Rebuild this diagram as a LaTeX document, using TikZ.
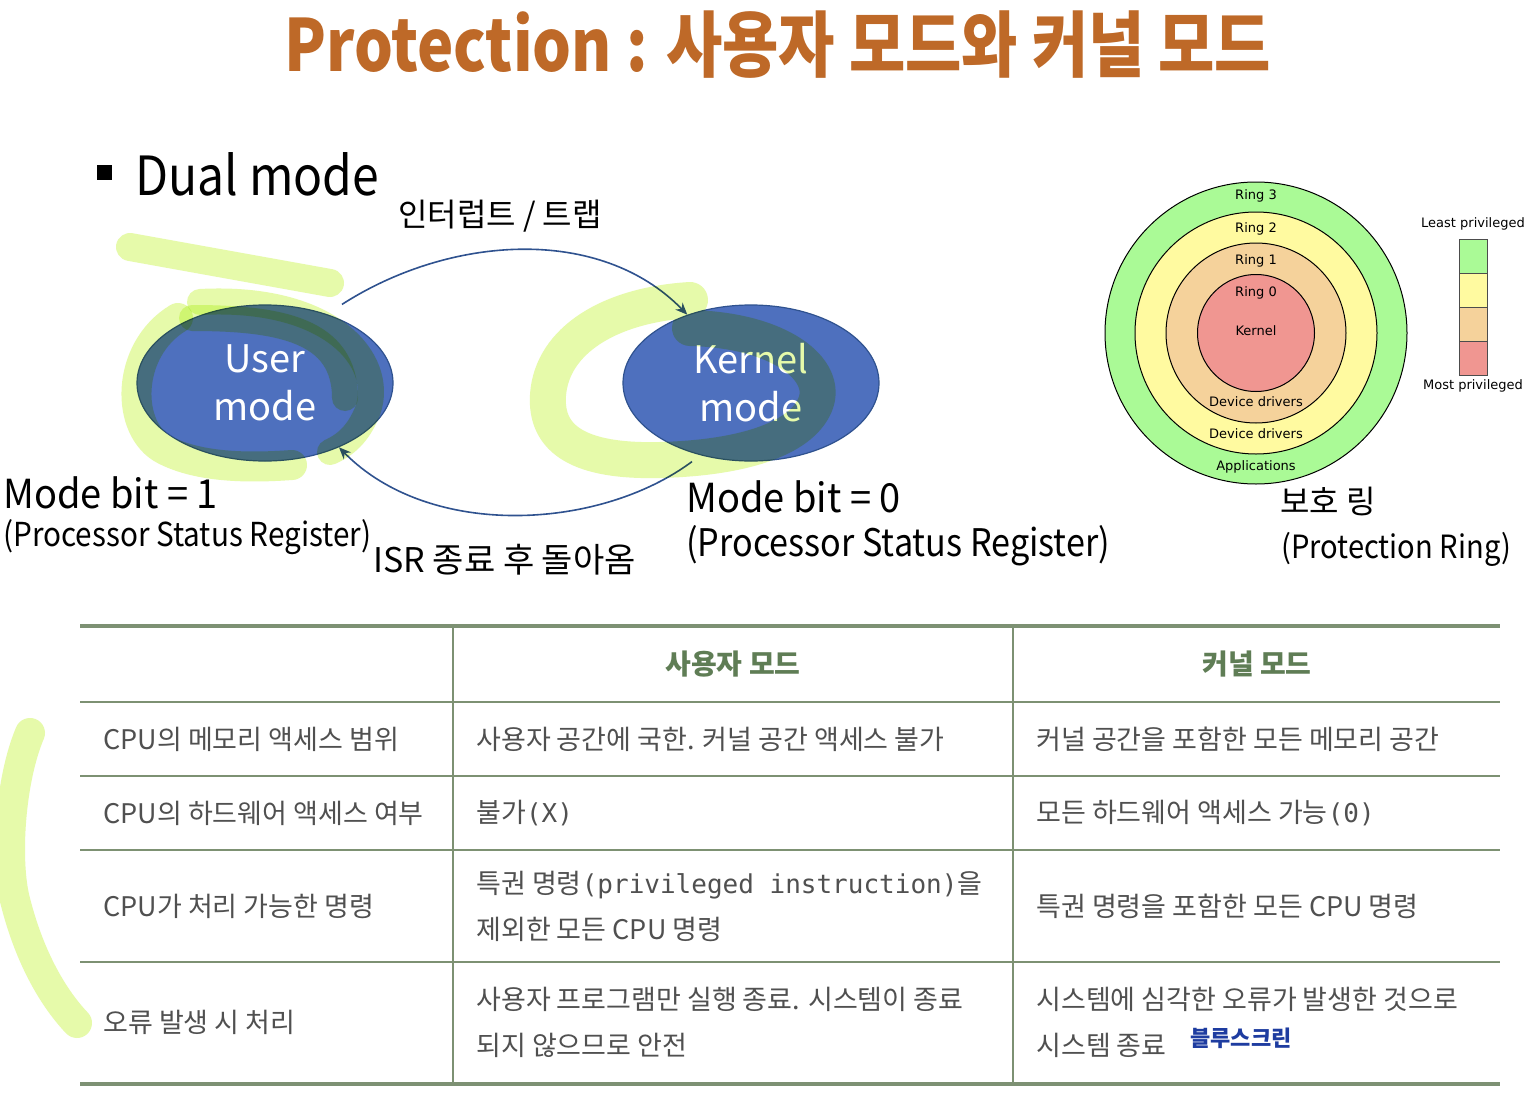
\documentclass[tikz,border=0pt]{standalone}
\usepackage{fontspec}
\setmainfont{Noto Sans CJK KR}
\newfontfamily\ringfont{DejaVu Sans}
\newfontfamily\codefont{DejaVu Sans Mono}
\usetikzlibrary{arrows.meta, positioning, shapes.geometric}
\definecolor{titleorange}{RGB}{190,105,40}
\definecolor{modefill}{RGB}{78,112,190}
\definecolor{modeline}{RGB}{47,82,143}
\definecolor{marker}{RGB}{230,250,170}
\definecolor{gridgreen}{RGB}{125,145,115}
\definecolor{headgreen}{RGB}{95,125,85}
\definecolor{bodygray}{RGB}{80,80,80}
\definecolor{bsod}{RGB}{30,60,160}
\definecolor{ringA}{RGB}{170,250,150}
\definecolor{ringB}{RGB}{255,250,160}
\definecolor{ringC}{RGB}{245,210,155}
\definecolor{ringD}{RGB}{240,150,145}
\newcommand{\squeeze}[2]{\scalebox{#1}[1]{#2}}
\newcommand{\code}[1]{{\codefont\fontsize{13}{23}\selectfont#1}}

\begin{document}
\begin{tikzpicture}[x=0.5pt, y=-0.5pt,
    modebox/.style={ellipse, draw=modeline, fill=modefill, line width=0.6pt, minimum width=128pt, minimum height=78pt, inner sep=0pt, text=white, align=center, font=\fontsize{19}{24}\selectfont},
    flow/.style={-{Stealth[length=6pt, width=5pt]}, draw=modeline, line width=0.8pt},
    lbl/.style={inner sep=0pt, anchor=base west},
    cell/.style={inner sep=0pt, anchor=west, align=left, text=bodygray, font=\fontsize{13.5}{23}\selectfont},
    head/.style={inner sep=0pt, text=headgreen, font=\fontsize{14}{16}\selectfont\bfseries},
    ring/.style={draw=black, line width=0.5pt},
    ringlbl/.style={inner sep=0pt, font=\ringfont\fontsize{6.5}{7}\selectfont},
    hl/.style={draw=marker, line cap=round, line join=round}
  ]
  \fill[white] (0,0) rectangle (1538,1108);
  \useasboundingbox (0,0) rectangle (1538,1108);

  % title and bullet
  \node[inner sep=0pt, anchor=base, text=titleorange, font=\fontsize{36}{40}\selectfont\bfseries] (title) at (778,71) {\squeeze{0.85}{Protection : 사용자 모드와 커널 모드}};
  \node[fill=black, minimum size=7.5pt, inner sep=0pt] (bullet) at (104.5,172) {};
  \node[lbl, font=\fontsize{27}{30}\selectfont] (dual) at (135,195) {\squeeze{0.89}{Dual mode}};

  % the two modes
  \node[modebox] (user) at (265,383) {User\\mode};
  \node[modebox] (kernel) at (751,383) {Kernel\\mode};
  \draw[flow] ([shift={(77,0)}]user.north) .. controls (450,235) and (600,225) .. (kernel.133);
  \draw[flow] ([shift={(-59,0)}]kernel.south) .. controls (600,530) and (430,540) .. (user.-41);
  \node[inner sep=0pt, anchor=base, font=\fontsize{16}{18}\selectfont] (trap) at (500,226) {인터럽트 / 트랩};
  \node[lbl, font=\fontsize{17}{20}\selectfont] (isr) at (373,572) {ISR 종료 후 돌아옴};
  \node[lbl, font=\fontsize{20}{22}\selectfont] (bitone) at (3,508) {\squeeze{0.95}{Mode bit = 1}};
  \node[lbl, font=\fontsize{16.5}{18}\selectfont] (psrone) at (3,546) {\squeeze{0.9}{(Processor Status Register)}};
  \node[lbl, font=\fontsize{20}{22}\selectfont] (bitzero) at (686,512) {\squeeze{0.95}{Mode bit = 0}};
  \node[lbl, font=\fontsize{19}{21}\selectfont] (psrzero) at (686,556) {\squeeze{0.9}{(Processor Status Register)}};

  % protection rings
  \filldraw[ring, fill=ringA] (1256,333) circle[radius=151];
  \filldraw[ring, fill=ringB] (1256,333) circle[radius=121];
  \filldraw[ring, fill=ringC] (1256,333) circle[radius=90];
  \filldraw[ring, fill=ringD] (1256,333) circle[radius=58.5];
  \node[ringlbl] (rthree) at (1256,196) {Ring 3};
  \node[ringlbl] (rtwo) at (1256,229) {Ring 2};
  \node[ringlbl] (rone) at (1256,261) {Ring 1};
  \node[ringlbl] (rzero) at (1256,293) {Ring 0};
  \node[ringlbl] (core) at (1256,331) {Kernel};
  \node[ringlbl] (drvin) at (1256,402) {Device drivers};
  \node[ringlbl] (drvout) at (1256,434) {Device drivers};
  \node[ringlbl] (apps) at (1256,467) {Applications};
  \foreach \c [count=\i from 0] in {ringA,ringB,ringC,ringD}
    \filldraw[draw=black!70, line width=0.4pt, fill=\c] (1459,{239+\i*34}) rectangle (1487,{273+\i*34});
  \node[ringlbl] (least) at (1473,224) {Least privileged};
  \node[ringlbl] (most) at (1473,386) {Most privileged};
  \node[lbl, font=\fontsize{16}{18}\selectfont] (ringko) at (1280,513) {보호 링};
  \node[lbl, font=\fontsize{16}{18}\selectfont] (ringen) at (1281,558) {\squeeze{0.91}{(Protection Ring)}};

  % comparison table
  \draw[gridgreen, line width=2pt] (80,626) -- (1500,626);
  \foreach \y in {702,776,850,962}
    \draw[gridgreen, line width=1pt] (80,\y) -- (1500,\y);
  \draw[gridgreen, line width=2pt] (80,1084) -- (1500,1084);
  \foreach \x in {453,1013}
    \draw[gridgreen, line width=0.6pt] (\x,626) -- (\x,1084);
  \node[head] (husr) at (733,664) {사용자 모드};
  \node[head] (hkrn) at (1257,664) {커널 모드};
  \node[cell] (aa) at (103,739) {CPU의 메모리 액세스 범위};
  \node[cell] (ab) at (476,739) {사용자 공간에 국한. 커널 공간 액세스 불가};
  \node[cell] (ac) at (1036,739) {커널 공간을 포함한 모든 메모리 공간};
  \node[cell] (ba) at (103,813) {CPU의 하드웨어 액세스 여부};
  \node[cell] (bb) at (476,813) {불가\code{(X)}};
  \node[cell] (bc) at (1036,813) {모든 하드웨어 액세스 가능\code{(0)}};
  \node[cell] (ca) at (103,906) {CPU가 처리 가능한 명령};
  \node[cell] (cb) at (476,906) {특권 명령\code{(privileged instruction)}을\\제외한 모든 CPU 명령};
  \node[cell] (cc) at (1036,906) {특권 명령을 포함한 모든 CPU 명령};
  \node[cell] (da) at (103,1022) {오류 발생 시 처리};
  \node[cell] (db) at (476,1022) {사용자 프로그램만 실행 종료. 시스템이 종료\\되지 않으므로 안전};
  \node[cell] (dc) at (1036,1022) {시스템에 심각한 오류가 발생한 것으로\\시스템 종료};
  \node[inner sep=0pt, anchor=west, text=bsod, font=\fontsize{11}{12}\selectfont\bfseries] (blue) at (1190,1038) {블루스크린};

  % marker strokes
  \begin{scope}[blend mode=multiply]
    \draw[hl, line width=14pt] (130,247) -- (330,283);
    \draw[hl, line width=15pt] (178,318) .. controls (125,350) and (125,430) .. (165,450) .. controls (200,468) and (250,468) .. (292,465);
    \draw[hl, line width=13pt] (192,318) .. controls (280,318) and (345,330) .. (345,398);
    \draw[hl, line width=13pt] (200,302) .. controls (330,295) and (385,360) .. (368,410) .. controls (358,435) and (345,445) .. (330,452);
    \draw[hl, line width=18pt] (690,328) .. controls (780,330) and (830,370) .. (815,405) .. controls (800,440) and (740,458) .. (660,460) .. controls (580,462) and (545,440) .. (548,395) .. controls (552,340) and (610,305) .. (690,300);
    \draw[hl, line width=15pt] (30,733) .. controls (10,780) and (5,860) .. (15,900) .. controls (30,960) and (55,1000) .. (77,1023);
  \end{scope}
\end{tikzpicture}
\end{document}
